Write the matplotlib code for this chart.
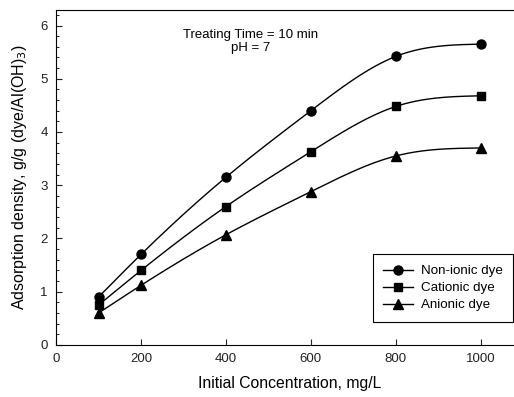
import matplotlib.pyplot as plt
import numpy as np
from matplotlib.ticker import MultipleLocator

plt.rcParams['font.family'] = ['Liberation Sans', 'DejaVu Sans']

# data
conc = [100, 200, 400, 600, 800, 1000]
nonionic = [0.90, 1.70, 3.15, 4.40, 5.42, 5.65]
cationic = [0.75, 1.40, 2.60, 3.63, 4.48, 4.68]
anionic = [0.60, 1.12, 2.07, 2.88, 3.55, 3.70]
labels = ['Non-ionic dye', 'Cationic dye', 'Anionic dye']
markers = ['o', 's', '^']


# natural cubic spline, only used to draw the smooth connecting line
def smooth(x, y, n=200):
    x = np.asarray(x, float)
    y = np.asarray(y, float)
    k = len(x)
    hs = np.diff(x)
    A = np.zeros((k, k))
    b = np.zeros(k)
    A[0, 0] = A[-1, -1] = 1
    for i in range(1, k - 1):
        A[i, i - 1] = hs[i - 1]
        A[i, i] = 2 * (hs[i - 1] + hs[i])
        A[i, i + 1] = hs[i]
        b[i] = 6 * ((y[i + 1] - y[i]) / hs[i] - (y[i] - y[i - 1]) / hs[i - 1])
    M = np.linalg.solve(A, b)
    xs = np.linspace(x[0], x[-1], n)
    idx = np.clip(np.searchsorted(x, xs) - 1, 0, k - 2)
    x0, x1 = x[idx], x[idx + 1]
    h = x1 - x0
    ys = (M[idx] * (x1 - xs) ** 3 / (6 * h) + M[idx + 1] * (xs - x0) ** 3 / (6 * h)
          + (y[idx] / h - M[idx] * h / 6) * (x1 - xs)
          + (y[idx + 1] / h - M[idx + 1] * h / 6) * (xs - x0))
    return xs, ys


fig = plt.figure(figsize=(5.14, 3.97), dpi=100)
ax = fig.add_axes([0.109, 0.131, 0.909, 0.845])
ax.spines['right'].set_visible(False)

for ys, lab, m in zip([nonionic, cationic, anionic], labels, markers):
    ms = 6 if m == 's' else 6.5
    sx, sy = smooth(conc, ys)
    ax.plot(sx, sy, color='black', lw=1.0)
    ax.plot(conc, ys, linestyle='none', marker=m, color='black', markersize=ms)
    ax.plot([], [], color='black', lw=1.0, marker=m, markersize=ms, label=lab)

ax.set_xlim(0, 1100)
ax.set_ylim(0, 6.3)
ax.set_xticks([0, 200, 400, 600, 800, 1000])
ax.set_yticks([0, 1, 2, 3, 4, 5, 6])
ax.yaxis.set_minor_locator(MultipleLocator(0.2))
ax.tick_params(direction='in', length=4, width=0.8, labelsize=9.5, colors='#222222', pad=6)
ax.tick_params(which='minor', direction='in', length=2.5, width=0.6)
ax.tick_params(top=False, right=False)

ax.set_xlabel('Initial Concentration, mg/L', fontsize=11.3, labelpad=8)
ax.set_ylabel('Adsorption density, g/g (dye/Al(OH)$_3$)', fontsize=11.5, labelpad=8)

ax.text(457, 5.70, 'Treating Time = 10 min\npH = 7', ha='center', va='center',
        fontsize=9.5, linespacing=1.1)

leg = ax.legend(loc='lower right', bbox_to_anchor=(1076, 0.43), bbox_transform=ax.transData,
                fancybox=False, framealpha=1, edgecolor='black', fontsize=9.6,
                handlelength=2.2, handletextpad=0.6, borderpad=0.8, labelspacing=0.35,
                borderaxespad=0)
leg.get_frame().set_linewidth(0.8)

fig.savefig('out.png', dpi=100)
